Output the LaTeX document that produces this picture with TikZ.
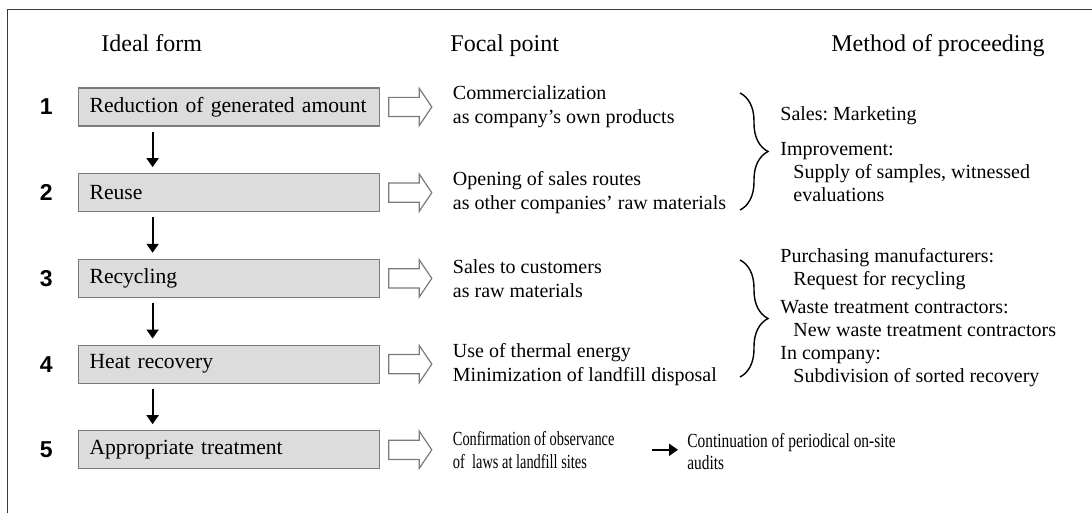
\documentclass[tikz,border=0pt]{standalone}
\usepackage{fontspec}
\setmainfont{Liberation Serif}
\newfontfamily\numfont{Liberation Sans}
\newfontfamily\narrowfont[FakeStretch=0.72]{Liberation Serif}
\newfontfamily\auditfont[FakeStretch=0.77]{Liberation Serif}
\usetikzlibrary{arrows.meta, positioning, shapes.arrows, decorations.pathreplacing}

\definecolor{boxgray}{HTML}{DCDCDC}
\definecolor{edgegray}{HTML}{7A7A7A}
\definecolor{framegray}{HTML}{3A3A3A}

\tikzset{
  stage/.style={draw=edgegray, fill=boxgray, line width=0.6pt, minimum height=19pt,
    text width=139.5pt, inner xsep=5.5pt, inner ysep=0pt, align=left,
    font=\fontsize{10.8}{13}\selectfont},
  num/.style={inner sep=0pt, font=\numfont\bfseries\fontsize{11.5}{13}\selectfont},
  hollow/.style={single arrow, draw=edgegray, fill=white, line width=0.6pt,
    minimum width=18pt, minimum height=21.5pt, single arrow head extend=4.5pt,
    single arrow tip angle=112, inner xsep=0pt, inner ysep=4.5pt},
  focal/.style={align=left, inner sep=0pt, font=\fontsize{10}{12}\selectfont},
  method/.style={align=left, inner sep=0pt, anchor=base west, font=\fontsize{10}{11.5}\selectfont},
  head/.style={inner sep=0pt, font=\fontsize{12}{14}\selectfont},
  down/.style={-{Triangle[length=4.5pt,width=6pt]}, line width=1pt},
  curly/.style={decorate, decoration={brace, amplitude=14pt}, line width=0.7pt},
}

\begin{document}
\frenchspacing
\begin{tikzpicture}[x=0.5pt, y=-0.5pt]
    \useasboundingbox (0,0) rectangle (1092,513);
    % frame
    \draw[framegray, line width=0.8pt] (7.5,513) -- (7.5,9.5) -- (1092,9.5);
    % column heads
    \node[head, anchor=base west] (ideal) at (101,52) {Ideal form};
    \node[head, anchor=base west] (focus) at (450,52) {Focal point};
    \node[head, anchor=base east] (proc) at (1045,52) {Method of proceeding};
    % ideal forms
    \node[stage, anchor=west] (r1) at (78,107) {Reduction of generated amount};
    \node[stage, below=23.25pt of r1] (r2) {Reuse};
    \node[stage, below=23.25pt of r2] (r3) {Recycling};
    \node[stage, below=23.25pt of r3] (r4) {Heat recovery};
    \node[stage, below=23.25pt of r4] (r5) {Appropriate treatment};
    \foreach \i in {1,...,5} {
        \node[num, left=12.5pt of r\i] (n\i) {\i};
        \node[hollow, right=4pt of r\i] (a\i) {};
    }
    \foreach \a/\b in {r1/r2, r2/r3, r3/r4, r4/r5}
        \draw[down] ([xshift=-38.25pt, yshift=-2.5pt]\a.south) -- ([xshift=-38.25pt, yshift=3pt]\b.north);
    % focal points
    \node[focal, right=10pt of a1] (f1) {Commercialization\\as company’s own products};
    \node[focal, right=10pt of a2] (f2) {Opening of sales routes\\as other companies’ raw materials};
    \node[focal, right=10pt of a3] (f3) {Sales to customers\\as raw materials};
    \node[focal, right=10pt of a4] (f4) {Use of thermal energy\\Minimization of landfill disposal};
    \node[focal, right=10pt of a5, font=\narrowfont\fontsize{10}{11.5}\selectfont] (f5)
        {Confirmation of observance\\of~ laws at landfill sites};
    % methods
    \draw[curly] (740,93) -- (740,210);
    \draw[curly] (740,260) -- (740,377);
    \node[method] (m1) at (780,202) {Sales: Marketing\\[6pt]Improvement:\\
        \hspace*{6.5pt}Supply of samples, witnessed\\\hspace*{6.5pt}evaluations};
    \node[method] (m3) at (780,382) {Purchasing manufacturers:\\\hspace*{6.5pt}Request for recycling\\[2.5pt]
        Waste treatment contractors:\\\hspace*{6.5pt}New waste treatment contractors\\
        In company:\\\hspace*{6.5pt}Subdivision of sorted recovery};
    \node[method, font=\auditfont\fontsize{10}{11}\selectfont] (m5) at (687,469)
        {Continuation of periodical on-site\\audits};
    \draw[down] ([xshift=-17.5pt]m5.west |- f5.east) -- ([xshift=-4.5pt]m5.west |- f5.east);
\end{tikzpicture}
\end{document}
